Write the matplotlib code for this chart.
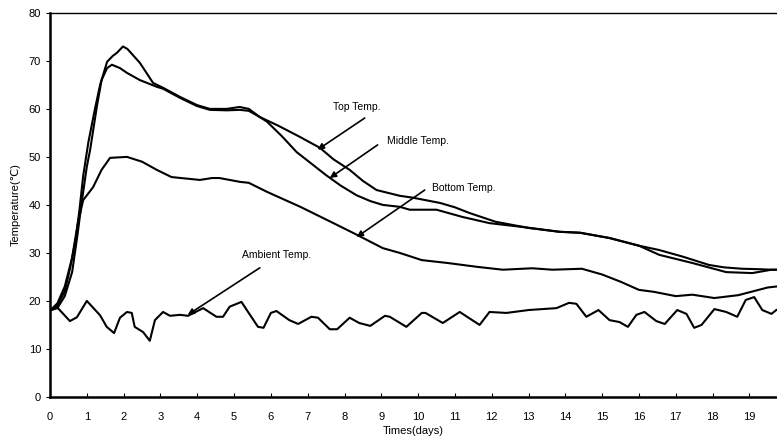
import matplotlib
matplotlib.use("Agg")
import matplotlib.pyplot as plt

plt.rcParams['font.family'] = ['Liberation Sans', 'DejaVu Sans']

# temperatures (days, deg C)
top_days = [0, 0.2, 0.4, 0.55, 0.7, 0.8, 0.9, 1.04, 1.22, 1.36, 1.55, 1.7, 1.82, 1.98, 2.1,
            2.44, 2.8, 3.07, 3.53, 3.99, 4.34, 4.8, 5.15, 5.4, 5.7, 6.2, 6.78, 7.33, 7.7, 8.14,
            8.5, 8.87, 9.5, 9.86, 10.6, 11.0, 11.4, 12.1, 13.0, 13.84, 14.4, 15.2, 16.0, 16.55,
            17.2, 17.9, 18.3, 18.8, 19.3, 19.6, 19.73]
top_vals = [18, 19, 22, 27, 33, 39, 46, 53, 60, 65, 69.8, 71, 71.7, 73, 72.5,
            69.6, 65.4, 64.4, 62.5, 60.8, 60, 60, 60.4, 60, 58.3, 56.5, 54.2, 51.9, 49.5, 47.3,
            45, 43.1, 41.9, 41.5, 40.4, 39.5, 38.3, 36.5, 35.2, 34.4, 34.2, 33.1, 31.5, 30.6,
            29.2, 27.5, 27, 26.7, 26.6, 26.5, 26.5]

mid_days = [0, 0.2, 0.4, 0.6, 0.75, 0.85, 1.0, 1.09, 1.27, 1.4, 1.55, 1.68, 1.9, 2.09, 2.44,
            2.9, 3.07, 3.53, 3.99, 4.34, 4.8, 5.15, 5.4, 5.7, 5.9, 6.3, 6.7, 7.1, 7.5, 7.9,
            8.33, 8.7, 9.04, 9.5, 9.77, 10.5, 11.2, 11.94, 12.84, 13.84, 14.4, 15.2, 16.0, 16.55,
            17.45, 18.37, 19.08, 19.6, 19.73]
mid_vals = [18, 18.5, 21, 26, 34, 40, 48, 51.5, 60.4, 66, 68.5, 69.2, 68.5, 67.5, 66,
            64.6, 64.2, 62.3, 60.6, 59.8, 59.7, 59.8, 59.6, 58.3, 57.3, 54.3, 51, 48.6, 46.2, 44,
            42, 40.8, 40, 39.6, 39, 39, 37.5, 36.2, 35.4, 34.4, 34.2, 33.1, 31.5, 29.6,
            27.9, 26, 25.8, 26.5, 26.5]

bot_days = [0, 0.2, 0.4, 0.6, 0.75, 0.9, 1.17, 1.4, 1.63, 2.09, 2.5, 2.9, 3.3, 4.07, 4.4,
            4.6, 5.16, 5.4, 5.9, 6.8, 7.7, 8.33, 9.04, 9.5, 10.1, 10.8, 11.6, 12.3, 13.1, 13.65,
            14.45, 15.0, 15.5, 16.0, 16.4, 17.0, 17.45, 18.05, 18.7, 18.9, 19.5, 19.73]
bot_vals = [18, 19.5, 23, 29, 36, 41, 43.7, 47.3, 49.8, 50, 49, 47.3, 45.8, 45.2, 45.6,
            45.6, 44.8, 44.6, 42.7, 39.6, 36.2, 33.8, 31, 30, 28.5, 27.9, 27.1, 26.5, 26.8, 26.5,
            26.7, 25.5, 24, 22.3, 21.9, 21, 21.3, 20.6, 21.2, 21.6, 22.8, 23]

amb_days = [0, 0.19, 0.54, 0.73, 1.0, 1.36, 1.54, 1.74, 1.9, 2.09, 2.22, 2.3, 2.53, 2.71, 2.85,
            3.07, 3.26, 3.53, 3.75, 4.16, 4.52, 4.7, 4.88, 5.2, 5.38, 5.65, 5.8, 6.0, 6.15, 6.5,
            6.74, 7.1, 7.28, 7.6, 7.8, 8.14, 8.4, 8.7, 9.1, 9.23, 9.68, 10.1, 10.2, 10.67, 11.13,
            11.67, 11.94, 12.4, 13.0, 13.76, 14.1, 14.3, 14.57, 14.9, 15.2, 15.47, 15.7, 15.93,
            16.15, 16.47, 16.7, 17.04, 17.29, 17.5, 17.7, 18.05, 18.37, 18.67, 18.9, 19.13,
            19.35, 19.6, 19.73]
amb_vals = [18.1, 18.7, 15.8, 16.6, 20, 17, 14.6, 13.3, 16.5, 17.7, 17.5, 14.6, 13.5, 11.7, 16,
            17.7, 16.9, 17.1, 16.9, 18.5, 16.7, 16.7, 18.8, 19.8, 17.7, 14.6, 14.4, 17.5, 17.9, 16,
            15.2, 16.7, 16.5, 14.1, 14.1, 16.5, 15.4, 14.8, 16.9, 16.7, 14.6, 17.5, 17.5, 15.4, 17.7,
            15, 17.7, 17.5, 18.1, 18.5, 19.6, 19.4, 16.7, 18.1, 16, 15.6, 14.6, 17.1,
            17.7, 15.8, 15.2, 18.1, 17.3, 14.4, 15, 18.3, 17.7, 16.7, 20.2, 20.8,
            18.1, 17.3, 18.1]

x_ticks = list(range(0, 20))
y_ticks = list(range(0, 81, 10))

fig = plt.figure(figsize=(7.77, 4.44), dpi=100)
ax = fig.add_axes([0.0644, 0.106, 0.9356, 0.865])

for d, v in [(top_days, top_vals), (mid_days, mid_vals), (bot_days, bot_vals), (amb_days, amb_vals)]:
    ax.plot(d, v, color='black', lw=1.5, solid_joinstyle='round')

# labels with arrows
arrow = dict(arrowstyle='-|>', color='black', lw=1.2, mutation_scale=9, shrinkA=0, shrinkB=0)
ax.annotate('', xy=(7.27, 51.5), xytext=(8.55, 58.1), arrowprops=arrow)
ax.annotate('', xy=(7.6, 45.6), xytext=(8.9, 52.5), arrowprops=arrow)
ax.annotate('', xy=(8.33, 33.3), xytext=(10.18, 43.1), arrowprops=arrow)
ax.annotate('', xy=(3.74, 17.1), xytext=(5.7, 26.9), arrowprops=arrow)
ax.text(7.68, 60.4, 'Top Temp.', fontsize=7.5, va='center')
ax.text(9.15, 53.3, 'Middle Temp.', fontsize=7.5, va='center')
ax.text(10.39, 43.5, 'Bottom Temp.', fontsize=7.5, va='center')
ax.text(5.21, 29.6, 'Ambient Temp.', fontsize=7.5, va='center')

ax.set_xlim(0, 19.75)
ax.set_ylim(0, 80)
ax.set_xticks(x_ticks)
ax.set_yticks(y_ticks)
ax.tick_params(axis='x', direction='in', length=3, labelsize=8, pad=11)
ax.tick_params(axis='y', direction='out', length=3, labelsize=8)
ax.spines['right'].set_visible(False)
ax.spines['left'].set_linewidth(1.8)
ax.spines['bottom'].set_linewidth(1.8)
ax.spines['top'].set_linewidth(1.0)
ax.set_xlabel('Times(days)', fontsize=8, labelpad=3)
ax.set_ylabel('Temperature(℃)', fontsize=8, labelpad=6)

fig.savefig('out.png', dpi=100)
